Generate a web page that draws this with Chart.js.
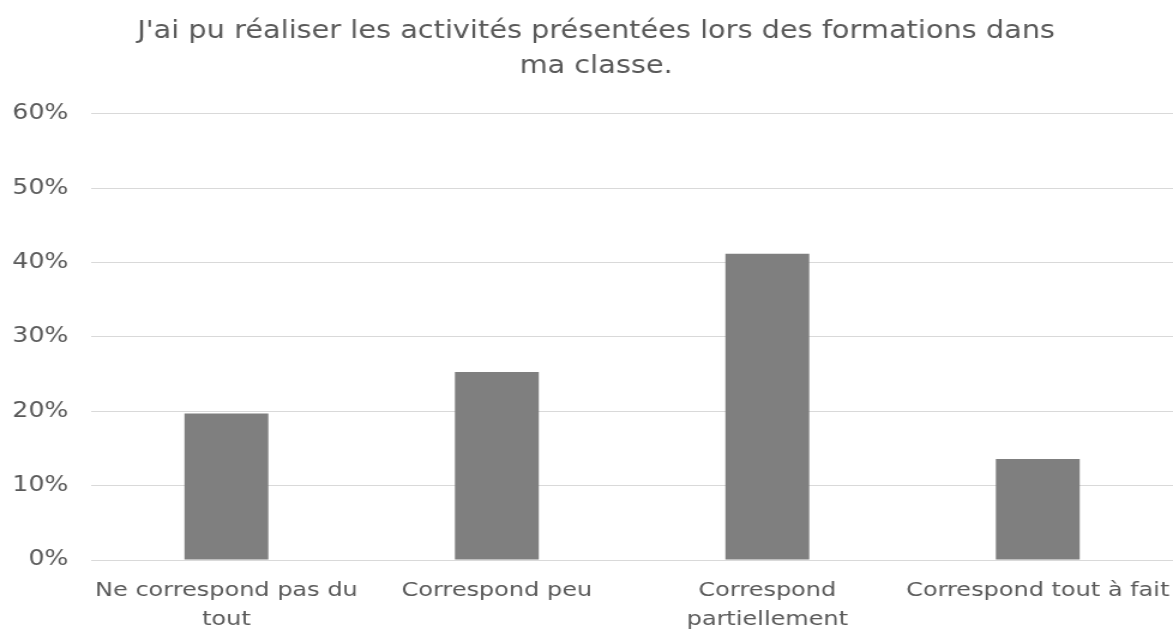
<!DOCTYPE html>
<html lang="fr">
  <head>
    <meta charset="UTF-8" />
    <title>Activités en classe</title>
    <script src="https://cdn.jsdelivr.net/npm/chart.js"></script>
    <style>
      html,
      body {
        margin: 0;
        padding: 0;
        background: #ffffff;
        overflow: hidden;
      }
      /* the source picture is stretched sideways, so draw narrower and widen */
      #wrap {
        width: 978px;
        height: 632px;
        transform: scaleX(1.19939);
        transform-origin: 0 0;
      }
    </style>
  </head>
  <body>
    <div id="wrap"><canvas id="chart" width="978" height="632"></canvas></div>

    <script>
      // data
      const titleLines = [
        "J'ai pu réaliser les activités présentées lors des formations dans",
        "ma classe.",
      ];
      const categories = [
        ["Ne correspond pas du", "tout"],
        "Correspond peu",
        ["Correspond", "partiellement"],
        "Correspond tout à fait",
      ];
      const shares = [0.197, 0.253, 0.412, 0.136];
      const yTicks = [0, 0.1, 0.2, 0.3, 0.4, 0.5, 0.6];

      const textColor = "#595959";
      const gridColor = "#d9d9d9";
      const fontFamily = "'DejaVu Sans', Verdana, sans-serif";

      // title sits a little right of the canvas middle
      const titleShift = {
        id: "titleShift",
        afterLayout(chart) {
          if (chart.titleBlock) chart.titleBlock.left += 16;
        },
      };

      new Chart(document.getElementById("chart"), {
        type: "bar",
        data: {
          labels: categories,
          datasets: [
            {
              data: shares,
              backgroundColor: "#7f7f7f",
              borderWidth: 0,
              barPercentage: 1,
              categoryPercentage: 0.31,
            },
          ],
        },
        options: {
          responsive: false,
          animation: false,
          layout: { padding: 0 },
          plugins: {
            legend: { display: false },
            tooltip: { enabled: false },
            title: {
              display: true,
              text: titleLines,
              color: textColor,
              font: { family: fontFamily, size: 24, weight: "normal", lineHeight: 1.458 },
              padding: { top: 14, bottom: 30 },
            },
          },
          scales: {
            x: {
              grid: { display: false, drawTicks: false },
              border: { display: true, color: gridColor, width: 1 },
              ticks: {
                color: textColor,
                font: { family: fontFamily, size: 20, lineHeight: 1.45 },
                padding: 16,
                maxRotation: 0,
                autoSkip: false,
              },
              afterFit: (s) => {
                s.height = 72;
                // plot runs to the right edge even though the last label is wide
                s.paddingLeft = 0;
                s.paddingRight = 0;
              },
            },
            y: {
              min: 0,
              max: 0.6,
              afterBuildTicks: (s) => {
                s.ticks = yTicks.map((v) => ({ value: v }));
              },
              grid: { color: gridColor, lineWidth: 1, drawTicks: false },
              border: { display: false },
              ticks: {
                color: textColor,
                font: { family: fontFamily, size: 21 },
                padding: 19,
                callback: (v) => Math.round(v * 100) + "%",
              },
              afterFit: (s) => {
                s.width = 76;
              },
            },
          },
        },
        plugins: [titleShift],
      });
    </script>
  </body>
</html>
